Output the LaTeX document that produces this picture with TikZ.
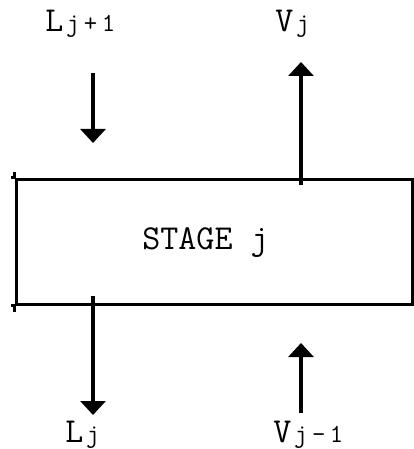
\documentclass[tikz,border=0pt]{standalone}
\usepackage{fontspec}
\usetikzlibrary{arrows.meta}
\newcommand\tw{\ttfamily\addfontfeatures{FakeBold=1.5}}
\newcommand\bigch[1]{\makebox[18.5pt]{\fontsize{35}{35}\selectfont\tw #1}}
\newcommand\smch[1]{\makebox[18pt]{\fontsize{26}{26}\selectfont\tw #1}}
\begin{document}
\begin{tikzpicture}[x=1pt,y=-1pt,
  flow/.style={line width=3.2pt,-{Triangle[width=25pt,length=14pt]}},
  boxline/.style={line width=3pt},
  lbl/.style={inner sep=0pt,anchor=base west}]
\useasboundingbox (0,0) rectangle (414,449);
% stage box
\node[boxline,draw,minimum width=396pt,minimum height=125pt,inner sep=0pt] (stage) at (214,241.5) {};
\node[inner sep=0pt,anchor=base] (stagetxt) at (205.5,249) {\fontsize{35}{35}\selectfont\tw STAGE j};
% overhangs of the box lines
\draw[boxline] (stage.north west) -- ++(-4,0);
\draw[boxline] (stage.south west) -- ++(-4,0);
\draw[boxline] (stage.north east) -- ++(3,0);
\draw[boxline] (stage.south east) -- ++(3,0);
\draw[boxline] (stage.north west) -- ++(0,-6);
\draw[boxline] (stage.south west) -- ++(0,6);
% arrow coordinates
\coordinate (lin0) at (93,73);
\coordinate (lin1) at (93,143);
\coordinate (vout0) at (301,185);
\coordinate (vout1) at (301,62);
\coordinate (lout0) at (93,296);
\coordinate (lout1) at (93,415);
\coordinate (vin0) at (301,413);
\coordinate (vin1) at (301,343);
\draw[flow] (lin0) -- (lin1);
\draw[flow] (vout0) -- (vout1);
\draw[flow] (lout0) -- (lout1);
\draw[flow] (vin0) -- (vin1);
% labels
\node[lbl] (Ljp) at (45,32) {\bigch{L}\smch{j}\smch{+}\smch{1}};
\node[lbl] (Vj) at (275,32) {\bigch{V}\smch{j}};
\node[lbl] (Lj) at (65,442) {\bigch{L}\smch{j}};
\node[lbl] (Vjm) at (273,442) {\bigch{V}\smch{j}\smch{-}\smch{1}};
\end{tikzpicture}
\end{document}
